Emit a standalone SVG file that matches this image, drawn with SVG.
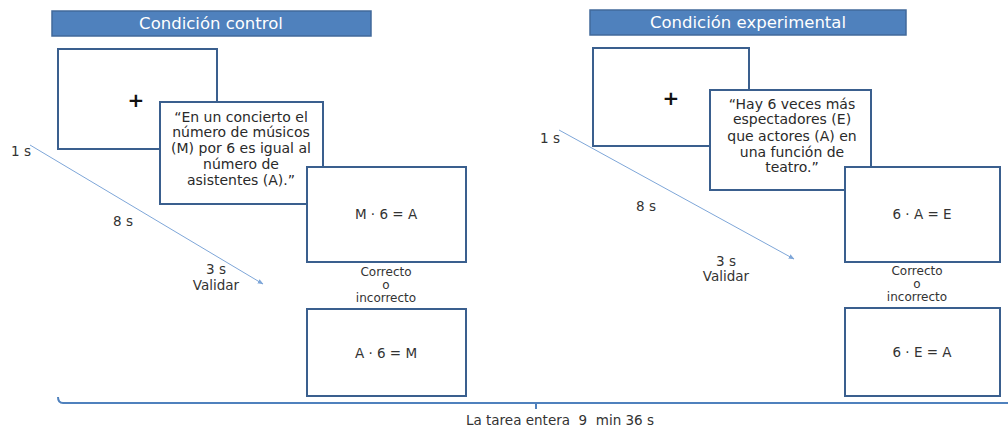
<svg xmlns="http://www.w3.org/2000/svg" width="1008" height="429" viewBox="0 0 1008 429">
<style>
.hdr{fill:#4f81bd;stroke:#41699b;stroke-width:1.5}
.hdrt{font-family:"DejaVu Sans",sans-serif;font-size:16.5px;fill:#fff;text-anchor:middle}
.box{fill:#fff;stroke:#3a5f8e;stroke-width:2}
.t{font-family:"DejaVu Sans",sans-serif;font-size:13.5px;fill:#333;text-anchor:middle}
.q{font-family:"DejaVu Sans",sans-serif;font-size:14px;fill:#2a2a2a;text-anchor:middle}
.s{font-family:"DejaVu Sans",sans-serif;font-size:12px;fill:#333;text-anchor:middle}
.plus{font-family:"DejaVu Sans",sans-serif;font-size:20px;font-weight:bold;fill:#111;text-anchor:middle}
.arr{stroke:#7ea6d8;stroke-width:1;fill:none;marker-end:url(#ah)}
</style>
<defs>
<marker id="ah" viewBox="0 0 10 10" refX="9" refY="5" markerWidth="6" markerHeight="6" orient="auto">
<path d="M0,1 L10,5 L0,9 z" fill="#7ea6d8"/>
</marker>
</defs>
<g id="hdr-control"><rect class="hdr" x="52" y="11" width="319" height="25"/><text class="hdrt" x="211" y="29">Condición control</text></g>
<g id="hdr-exp"><rect class="hdr" x="590" y="10" width="316" height="25"/><text class="hdrt" x="748" y="28">Condición experimental</text></g>

<g id="c-fix"><rect class="box" x="58" y="49" width="159" height="100"/><text class="plus" x="136" y="107">+</text></g>
<g id="c-quote"><rect class="box" x="160" y="102" width="163" height="102"/>
<text class="q" x="241" y="122">“En un concierto el</text>
<text class="q" x="241" y="137">número de músicos</text>
<text class="q" x="241" y="153">(M) por 6 es igual al</text>
<text class="q" x="241" y="169">número de</text>
<text class="q" x="241" y="185">asistentes (A).”</text></g>
<g id="c-eq1"><rect class="box" x="307" y="167" width="159" height="95"/><text class="t" x="386" y="219">M · 6 = A</text></g>
<g id="c-lbl"><text class="s" x="386" y="276">Correcto</text><text class="s" x="386" y="289">o</text><text class="s" x="386" y="302">incorrecto</text></g>
<g id="c-eq2"><rect class="box" x="307" y="309" width="159" height="87"/><text class="t" x="386" y="358">A · 6 = M</text></g>

<g id="e-fix"><rect class="box" x="593" y="48" width="156" height="98"/><text class="plus" x="671" y="105">+</text></g>
<g id="e-quote"><rect class="box" x="710" y="90" width="161" height="100"/>
<text class="q" x="792" y="109">“Hay 6 veces más</text>
<text class="q" x="792" y="124">espectadores (E)</text>
<text class="q" x="792" y="141">que actores (A) en</text>
<text class="q" x="792" y="157">una función de</text>
<text class="q" x="792" y="172">teatro.”</text></g>
<g id="e-eq1"><rect class="box" x="845" y="167" width="155" height="95"/><text class="t" x="922" y="219">6 · A = E</text></g>
<g id="e-lbl"><text class="s" x="917" y="275">Correcto</text><text class="s" x="917" y="288">o</text><text class="s" x="917" y="301">incorrecto</text></g>
<g id="e-eq2"><rect class="box" x="845" y="308" width="155" height="88"/><text class="t" x="922" y="357">6 · E = A</text></g>

<g id="connectors">
<line class="arr" x1="30" y1="145" x2="263" y2="284"/>
<line class="arr" x1="559" y1="130" x2="794" y2="259"/>
<path d="M58,397 Q58,403 63,403 L1008,403 M536,403 L536,409" stroke="#4f81bd" stroke-width="2" fill="none"/>
</g>
<g id="labels">
<text class="t" x="21" y="156">1 s</text>
<text class="t" x="123" y="226">8 s</text>
<text class="t" x="216" y="274">3 s</text>
<text class="t" x="216" y="290">Validar</text>
<text class="t" x="550" y="143">1 s</text>
<text class="t" x="646" y="211">8 s</text>
<text class="t" x="726" y="266">3 s</text>
<text class="t" x="726" y="281">Validar</text>
<text class="t" x="560" y="425" xml:space="preserve">La tarea entera  9  min 36 s</text>
</g>
</svg>
